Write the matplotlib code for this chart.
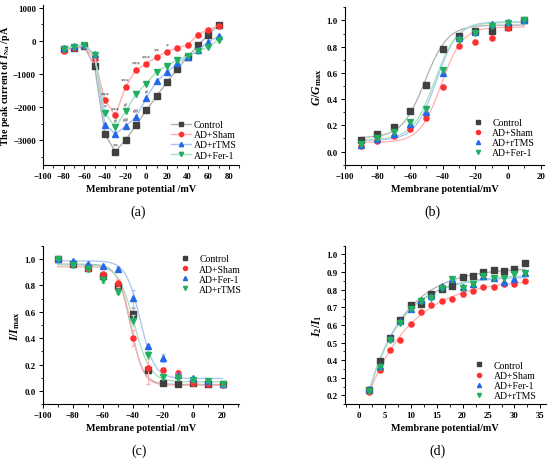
import numpy as np
import matplotlib
matplotlib.use("Agg")
from matplotlib import pyplot as plt
from matplotlib.ticker import MultipleLocator, AutoMinorLocator

plt.rcParams['font.family'] = ['Liberation Serif', 'DejaVu Serif']
plt.rcParams['mathtext.fontset'] = 'custom'
plt.rcParams['mathtext.rm'] = 'Liberation Serif:bold'
plt.rcParams['mathtext.it'] = 'Liberation Serif:italic:bold'
plt.rcParams['mathtext.bf'] = 'Liberation Serif:bold'

# ---- panel (a): I-V curves ----
v_a = [-80, -70, -60, -50, -40, -30, -20, -10, 0, 10, 20, 30, 40, 50, 60, 70]
a_control = [-260, -230, -170, -760, -2820, -3340, -2990, -2550, -2100, -1670, -1250, -850, -490, -140, 180, 480]
a_sham = [-300, -210, -170, -540, -1800, -2250, -1390, -880, -690, -490, -330, -210, -130, 190, 340, 460]
a_rtms = [-230, -170, -120, -410, -2530, -2810, -2580, -2300, -1730, -1220, -950, -680, -490, -290, -40, 140]
a_fer = [-240, -180, -140, -430, -2180, -2610, -2130, -1610, -1290, -930, -760, -580, -460, -310, -190, 40]

# significance marks: (voltage, series, text)
a_marks = [
    (-40, 'sham', '***'), (-30, 'sham', '***'), (-20, 'sham', '***'),
    (-10, 'sham', '***'), (0, 'sham', '***'), (10, 'sham', '**'), (20, 'sham', '*'),
    (-40, 'fer', '*'), (-20, 'fer', '#'), (-30, 'fer', '#'),
    (-20, 'rtms', '##'), (-10, 'rtms', '##'), (0, 'rtms', '#'),
    (-30, 'control', '**'),
]

# ---- panel (b): activation ----
v_b = [-90, -80, -70, -60, -50, -40, -30, -20, -10, 0, 10]
b_control = [0.085, 0.135, 0.19, 0.31, 0.505, 0.785, 0.883, 0.92, 0.92, 0.95, 1.0]
b_sham = [0.046, 0.081, 0.122, 0.175, 0.256, 0.492, 0.807, 0.832, 0.87, 0.94, 1.0]
b_rtms = [0.053, 0.096, 0.137, 0.21, 0.305, 0.60, 0.863, 0.91, 0.97, 0.99, 1.0]
b_fer = [0.058, 0.10, 0.147, 0.223, 0.327, 0.625, 0.85, 0.905, 0.96, 0.98, 1.0]
# Boltzmann fit parameters: bottom, top, V1/2, k
b_fit = {'control': (0.105, 0.965, -51, 7.0), 'sham': (0.07, 0.95, -41, 6.5),
         'rtms': (0.085, 0.99, -44, 6.5), 'fer': (0.09, 0.985, -45, 6.8)}

# ---- panel (c): inactivation ----
v_c = [-90, -80, -70, -60, -50, -40, -30, -20, -10, 0, 10, 20]
c_control = [1.0, 0.964, 0.93, 0.873, 0.794, 0.585, 0.16, 0.064, 0.053, 0.061, 0.056, 0.05]
c_sham = [1.0, 0.962, 0.926, 0.883, 0.817, 0.40, 0.176, 0.158, 0.137, 0.059, 0.053, 0.047]
c_fer = [1.0, 0.985, 0.964, 0.944, 0.926, 0.702, 0.338, 0.252, 0.12, 0.10, 0.079, 0.055]
c_rtms = [1.0, 0.957, 0.924, 0.837, 0.753, 0.532, 0.27, 0.109, 0.099, 0.084, 0.076, 0.052]
c_control_err = [0, 0.01, 0.02, 0.02, 0.02, 0.04, 0.02, 0.02, 0.01, 0.01, 0.01, 0.01]
c_sham_err = [0, 0.01, 0.01, 0.02, 0.03, 0.06, 0.12, 0.02, 0.02, 0.01, 0.01, 0.01]
c_fer_err = [0, 0.01, 0.01, 0.01, 0.01, 0.065, 0.02, 0.03, 0.02, 0.01, 0.01, 0.01]
c_rtms_err = [0, 0.01, 0.02, 0.02, 0.02, 0.04, 0.03, 0.02, 0.01, 0.01, 0.01, 0.01]
c_fit = {'control': (0.05, 0.96, -41.5, 4.3), 'sham': (0.045, 0.94, -41, 4.0),
         'fer': (0.095, 0.985, -35, 4.8), 'rtms': (0.07, 0.955, -39, 5.3)}

# ---- panel (d): recovery ----
t_d = [2, 4, 6, 8, 10, 12, 14, 16, 18, 20, 22, 24, 26, 28, 30, 32]
d_control = [0.232, 0.398, 0.527, 0.626, 0.715, 0.72, 0.778, 0.806, 0.82, 0.873, 0.875, 0.90, 0.911, 0.905, 0.915, 0.949]
d_sham = [0.217, 0.346, 0.459, 0.516, 0.607, 0.673, 0.713, 0.736, 0.748, 0.774, 0.795, 0.814, 0.816, 0.831, 0.833, 0.852]
d_fer = [0.236, 0.369, 0.525, 0.62, 0.69, 0.742, 0.765, 0.82, 0.858, 0.816, 0.831, 0.879, 0.869, 0.841, 0.86, 0.894]
d_rtms = [0.227, 0.363, 0.517, 0.611, 0.689, 0.736, 0.755, 0.812, 0.858, 0.812, 0.831, 0.879, 0.869, 0.865, 0.888, 0.894]
# exponential fit: plateau, start value, tau
d_fit = {'control': (0.925, 0.225, 7.0), 'sham': (0.862, 0.215, 8.6),
         'fer': (0.875, 0.228, 6.4), 'rtms': (0.885, 0.225, 6.6)}

names = {'control': 'Control', 'sham': 'AD+Sham', 'rtms': 'AD+rTMS', 'fer': 'AD+Fer-1'}

# styles: colour of marker, colour of line, marker
sty = {'gray': ('#404040', '#b0b0b0', 's'), 'red': ('#ff3030', '#ffb0b0', 'o'),
       'blue': ('#2468e8', '#a8c4f4', '^'), 'green': ('#22b060', '#a8e0c0', 'v')}
# panels (a),(b): rTMS blue, Fer-1 green; panels (c),(d): Fer-1 blue, rTMS green
style_ab = {'control': 'gray', 'sham': 'red', 'rtms': 'blue', 'fer': 'green'}
style_cd = {'control': 'gray', 'sham': 'red', 'fer': 'blue', 'rtms': 'green'}

LAB = 7.3
MS = 3.7


def style_axes(ax):
    ax.spines['top'].set_visible(False)
    ax.spines['right'].set_visible(False)
    ax.tick_params(labelsize=6.3, width=0.7, length=3, pad=2)
    ax.tick_params(which='minor', width=0.6, length=1.8)
    for lab in ax.get_xticklabels() + ax.get_yticklabels():
        lab.set_fontweight('bold')


fig = plt.figure(figsize=(5.5, 4.64), dpi=100)

# (a)
ax = fig.add_axes([0.078, 0.642, 0.357, 0.345])
series_a = {'control': a_control, 'sham': a_sham, 'rtms': a_rtms, 'fer': a_fer}
for key in ['control', 'sham', 'rtms', 'fer']:
    mc, lc, mk = sty[style_ab[key]]
    ax.plot(v_a, series_a[key], color=lc, lw=1.0, marker=mk, ms=MS,
            mfc=mc, mec=mc, label=names[key])
for v, key, txt in a_marks:
    y = series_a[key][v_a.index(v)]
    ax.annotate(txt, (v, y), xytext=(0, 3), textcoords='offset points',
                ha='center', va='bottom', fontsize=4.2, color='#303030')
ax.set_xlim(-100, 90)
ax.set_ylim(-3750, 1080)
ax.xaxis.set_major_locator(MultipleLocator(20))
ax.xaxis.set_minor_locator(AutoMinorLocator(2))
ax.yaxis.set_major_locator(MultipleLocator(1000))
ax.yaxis.set_minor_locator(AutoMinorLocator(2))
ax.set_xlabel('Membrane potential /mV', fontsize=LAB, fontweight='bold', labelpad=3)
ax.set_ylabel(r'The peak current of $I_{\mathrm{Na}}$ /pA', fontsize=7.2, fontweight='bold', labelpad=1)
style_axes(ax)
ax.legend(loc='lower right', bbox_to_anchor=(1.03, -0.02), fontsize=7, frameon=False,
          handlelength=2.0, handletextpad=0.3, labelspacing=0.12, markerscale=0.85)
fig.text(0.251, 0.535, '(a)', ha='center', fontsize=10)


def boltz_act(v, p):
    return p[0] + (p[1] - p[0]) / (1 + np.exp((p[2] - v) / p[3]))


def boltz_inact(v, p):
    return p[0] + (p[1] - p[0]) / (1 + np.exp((v - p[2]) / p[3]))


# (b)
ax = fig.add_axes([0.627, 0.643, 0.362, 0.339])
series_b = {'control': b_control, 'sham': b_sham, 'rtms': b_rtms, 'fer': b_fer}
vv = np.linspace(-90, 10, 200)
for key in ['control', 'sham', 'rtms', 'fer']:
    ax.plot(vv, boltz_act(vv, b_fit[key]), color=sty[style_ab[key]][1], lw=0.9)
for key in ['control', 'sham', 'rtms', 'fer']:
    mc, lc, mk = sty[style_ab[key]]
    ax.plot(v_b, series_b[key], ls='none', marker=mk, ms=MS, color=mc, label=names[key])
ax.set_xlim(-100, 22)
ax.set_ylim(-0.1, 1.1)
ax.xaxis.set_major_locator(MultipleLocator(20))
ax.xaxis.set_minor_locator(AutoMinorLocator(2))
ax.yaxis.set_major_locator(MultipleLocator(0.2))
ax.yaxis.set_minor_locator(AutoMinorLocator(2))
ax.yaxis.set_major_formatter('{x:.1f}')
ax.set_xlabel('Membrane potential/mV', fontsize=LAB, fontweight='bold', labelpad=3)
ax.set_ylabel(r'$G/G_{\mathrm{max}}$', fontsize=8.5, labelpad=2)
style_axes(ax)
ax.legend(loc='lower right', bbox_to_anchor=(1.0, -0.01), fontsize=7, frameon=False,
          handletextpad=0.5, labelspacing=0.12, markerscale=0.8)
fig.text(0.787, 0.535, '(b)', ha='center', fontsize=10)

# (c)
ax = fig.add_axes([0.0776, 0.1265, 0.357, 0.342])
series_c = {'control': c_control, 'sham': c_sham, 'fer': c_fer, 'rtms': c_rtms}
err_c = {'control': c_control_err, 'sham': c_sham_err, 'fer': c_fer_err, 'rtms': c_rtms_err}
vv = np.linspace(-90, 20, 200)
for key in ['control', 'sham', 'fer', 'rtms']:
    ax.plot(vv, boltz_inact(vv, c_fit[key]), color=sty[style_cd[key]][1], lw=0.9)
for key in ['control', 'sham', 'fer', 'rtms']:
    mc, lc, mk = sty[style_cd[key]]
    ax.errorbar(v_c, series_c[key], yerr=err_c[key], ls='none', marker='none',
                ecolor=lc, elinewidth=0.8, capsize=1.5)
    ax.plot(v_c, series_c[key], ls='none', marker=mk, ms=MS, color=mc, label=names[key])
ax.set_xlim(-100, 31)
ax.set_ylim(-0.1, 1.1)
ax.xaxis.set_major_locator(MultipleLocator(20))
ax.xaxis.set_minor_locator(AutoMinorLocator(2))
ax.yaxis.set_major_locator(MultipleLocator(0.2))
ax.yaxis.set_minor_locator(AutoMinorLocator(2))
ax.yaxis.set_major_formatter('{x:.1f}')
ax.set_xlabel('Membrane potential /mV', fontsize=LAB, fontweight='bold', labelpad=3)
ax.set_ylabel(r'$I/I_{\mathrm{max}}$', fontsize=8.5, labelpad=2)
style_axes(ax)
ax.legend(loc='upper right', bbox_to_anchor=(1.06, 1.0), fontsize=7, frameon=False,
          handletextpad=0.5, labelspacing=0.12, markerscale=0.8)
fig.text(0.253, 0.02, '(c)', ha='center', fontsize=10)

# (d)
ax = fig.add_axes([0.627, 0.1265, 0.365, 0.342])
series_d = {'control': d_control, 'sham': d_sham, 'fer': d_fer, 'rtms': d_rtms}
tt = np.linspace(2, 32, 200)
for key in ['control', 'sham', 'fer', 'rtms']:
    p = d_fit[key]
    ax.plot(tt, p[0] - (p[0] - p[1]) * np.exp(-(tt - 2) / p[2]), color=sty[style_cd[key]][1], lw=0.9)
for key in ['control', 'sham', 'fer', 'rtms']:
    mc, lc, mk = sty[style_cd[key]]
    ax.plot(t_d, series_d[key], ls='none', marker=mk, ms=MS, color=mc, label=names[key])
ax.set_xlim(-2.7, 36)
ax.set_ylim(0.15, 1.05)
ax.xaxis.set_major_locator(MultipleLocator(5))
ax.xaxis.set_minor_locator(AutoMinorLocator(2))
ax.yaxis.set_major_locator(MultipleLocator(0.1))
ax.yaxis.set_minor_locator(AutoMinorLocator(2))
ax.yaxis.set_major_formatter('{x:.1f}')
ax.set_xlabel('Membrane potential/mV', fontsize=LAB, fontweight='bold', labelpad=3)
ax.set_ylabel(r'$I_2/I_1$', fontsize=8.5, labelpad=2)
style_axes(ax)
ax.legend(loc='lower right', bbox_to_anchor=(1.0, -0.03), fontsize=7, frameon=False,
          handletextpad=0.5, labelspacing=0.12, markerscale=0.8)
fig.text(0.796, 0.02, '(d)', ha='center', fontsize=10)

fig.savefig('out.png', dpi=100)
